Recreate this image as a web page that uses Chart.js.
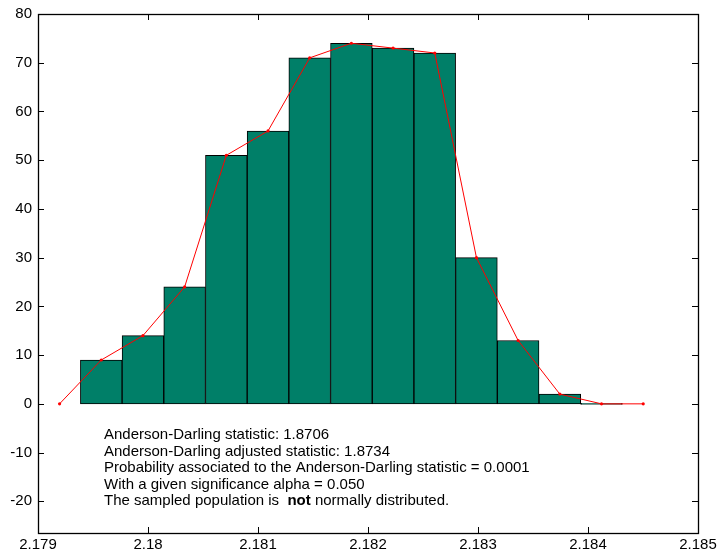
<!DOCTYPE html>
<html lang="en">
<head>
    <meta charset="UTF-8">
    <title>Anderson-Darling histogram</title>
    <script src="https://cdn.jsdelivr.net/npm/chart.js"></script>
    <style>
        html, body {
            margin: 0;
            padding: 0;
            background: #fff;
        }
        #wrap {
            width: 717px;
            height: 555px;
        }
    </style>
</head>
<body>
    <div id="wrap"><canvas id="histChart" width="717" height="555"></canvas></div>

    <script>
        // bin centres (the first and last entries are the empty bins where the red curve starts/ends)
        const binCenters = [2.179196, 2.179575, 2.179954, 2.180333, 2.180712, 2.181091, 2.181470,
            2.181849, 2.182228, 2.182607, 2.182986, 2.183365, 2.183744, 2.184123, 2.184502];
        // bar counts, for binCenters[1] .. binCenters[13]
        const barCounts = [9, 14, 24, 51, 56, 71, 74, 73, 72, 30, 13, 2, 0];
        // red polygon over all bin centres
        const curveCounts = [0, 9, 14, 24, 51, 56, 71, 74, 73, 72, 30, 13, 2, 0, 0];

        const xTicks = [2.179, 2.18, 2.181, 2.182, 2.183, 2.184, 2.185];
        const xTickLabels = ['2.179', '2.18', '2.181', '2.182', '2.183', '2.184', '2.185'];
        const yTicks = [-20, -10, 0, 10, 20, 30, 40, 50, 60, 70, 80];

        const infoLines = [
            ['Anderson-Darling statistic: 1.8706'],
            ['Anderson-Darling adjusted statistic: 1.8734'],
            ['Probability associated to the Anderson-Darling statistic = 0.0001'],
            ['With a given significance alpha = 0.050'],
            ['The sampled population is  ', 'not', ' normally distributed.']
        ];

        const FONT = '"Liberation Sans", Arial, sans-serif';

        // box around the plot with inward ticks on all four sides, plus the text block
        const framePlugin = {
            id: 'frame',
            afterDatasetsDraw(chart) {
                const { ctx, chartArea: a, scales } = chart;
                ctx.save();
                ctx.strokeStyle = '#000';
                ctx.lineWidth = 1;
                ctx.beginPath();
                xTicks.forEach(v => {
                    const px = Math.round(scales.x.getPixelForValue(v)) + 0.5;
                    ctx.moveTo(px, a.bottom); ctx.lineTo(px, a.bottom - 6);
                    ctx.moveTo(px, a.top); ctx.lineTo(px, a.top + 6);
                });
                yTicks.forEach(v => {
                    const py = Math.round(scales.y.getPixelForValue(v)) + 0.5;
                    ctx.moveTo(a.left, py); ctx.lineTo(a.left + 6, py);
                    ctx.moveTo(a.right, py); ctx.lineTo(a.right - 6, py);
                });
                ctx.stroke();
                ctx.lineWidth = 1.3;
                ctx.strokeRect(Math.round(a.left) + 0.5, Math.round(a.top) + 0.5,
                    Math.round(a.right - a.left), Math.round(a.bottom - a.top));

                // statistics text
                ctx.fillStyle = '#000';
                ctx.textBaseline = 'middle';
                let y = a.top + 421;
                infoLines.forEach(parts => {
                    let x = a.left + 66;
                    parts.forEach(p => {
                        ctx.font = (p === 'not' ? 'bold ' : '') + '15px ' + FONT;
                        ctx.fillText(p, x, y);
                        x += ctx.measureText(p).width;
                    });
                    y += 16.5;
                });
                ctx.restore();
            }
        };

        const ctx = document.getElementById('histChart').getContext('2d');
        new Chart(ctx, {
            data: {
                datasets: [
                    {
                        type: 'line',
                        data: binCenters.map((x, i) => ({ x: x, y: curveCounts[i] })),
                        borderColor: '#ff0000',
                        backgroundColor: '#ff0000',
                        borderWidth: 1,
                        pointRadius: 1.6,
                        pointBorderWidth: 0,
                        tension: 0,
                        order: 0
                    },
                    {
                        type: 'bar',
                        data: barCounts.map((y, i) => ({ x: binCenters[i + 1], y: y })),
                        backgroundColor: '#007f68',
                        borderColor: '#000',
                        borderWidth: 1,
                        borderSkipped: false,
                        minBarLength: 1,
                        barPercentage: 1,
                        categoryPercentage: 1,
                        order: 1
                    }
                ]
            },
            options: {
                responsive: false,
                animation: false,
                layout: { padding: { top: 14, right: 19, left: 0, bottom: 0 } },
                plugins: {
                    legend: { display: false },
                    tooltip: { enabled: false }
                },
                scales: {
                    x: {
                        type: 'linear',
                        offset: false,
                        min: 2.179,
                        max: 2.185,
                        grid: { display: false, drawTicks: false, offset: false },
                        border: { display: false },
                        afterBuildTicks: s => { s.ticks = xTicks.map(v => ({ value: v })); },
                        afterFit: s => { s.height = 22; s.paddingLeft = 0; s.paddingRight = 0; },
                        ticks: {
                            padding: 3,
                            maxRotation: 0,
                            autoSkip: false,
                            color: '#000',
                            font: { family: FONT, size: 15 },
                            callback: (v, i) => xTickLabels[i]
                        }
                    },
                    y: {
                        min: -26.5,
                        max: 80,
                        grid: { display: false, drawTicks: false },
                        border: { display: false },
                        afterBuildTicks: s => { s.ticks = yTicks.map(v => ({ value: v })); },
                        afterFit: s => { s.width = 38; s.paddingTop = 0; s.paddingBottom = 0; },
                        ticks: {
                            padding: 6,
                            color: '#000',
                            font: { family: FONT, size: 15 }
                        }
                    }
                }
            },
            plugins: [framePlugin]
        });
    </script>
</body>
</html>
